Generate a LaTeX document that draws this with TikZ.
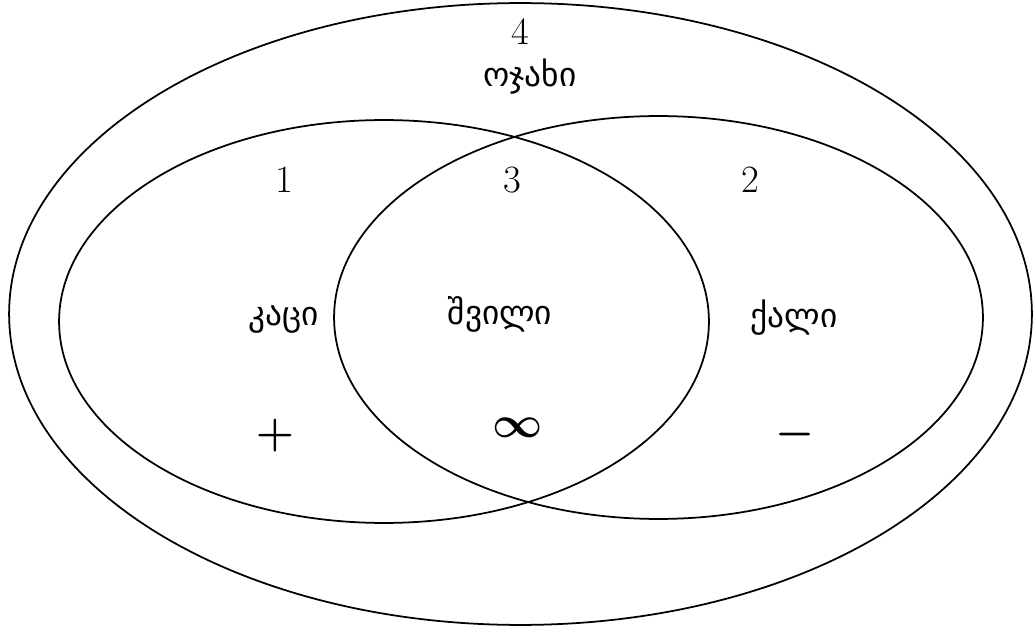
\documentclass[tikz,border=0pt]{standalone}
\usepackage{fontspec}
\newfontfamily\geofont{DejaVu Sans}
\usetikzlibrary{positioning}

\begin{document}
\begin{tikzpicture}[
  x=0.02cm, y=-0.02cm,
  set/.style={draw=black, line width=1pt},
  num/.style={font=\fontsize{22}{24}\selectfont, inner sep=0pt},
  word/.style={font=\geofont\fontsize{19}{22}\selectfont, inner sep=0pt},
  sym/.style={font=\boldmath\fontsize{26}{28}\selectfont, inner sep=0pt}
]

\useasboundingbox (0,0) rectangle (1035,628);

% Sets
\draw[set] (520.5,314) ellipse [x radius=10.23cm, y radius=6.22cm];
\draw[set] (384,321.5) ellipse [x radius=6.5cm, y radius=4.03cm];
\draw[set] (658.5,317.5) ellipse [x radius=6.49cm, y radius=4.03cm];

% Outer set
\node[num]  (n4)     at (520,32)  {4};
\node[word] (family) at (530,77)  {ოჯახი};

% Left, middle, right
\node[num]  (n1)     at (284,180) {1};
\node[num]  (n3)     at (512,180) {3};
\node[num]  (n2)     at (750,180) {2};

\node[word] (man)    at (284,320) {კაცი};
\node[word] (child)  at (500,314) {შვილი};
\node[word] (woman)  at (794,318) {ქალი};

\node[sym]  (plus)   at (275,436) {$+$};
\node[sym]  (infty)  at (518,428) {$\infty$};
\node[sym]  (minus)  at (795,435) {$-$};

\end{tikzpicture}
\end{document}
